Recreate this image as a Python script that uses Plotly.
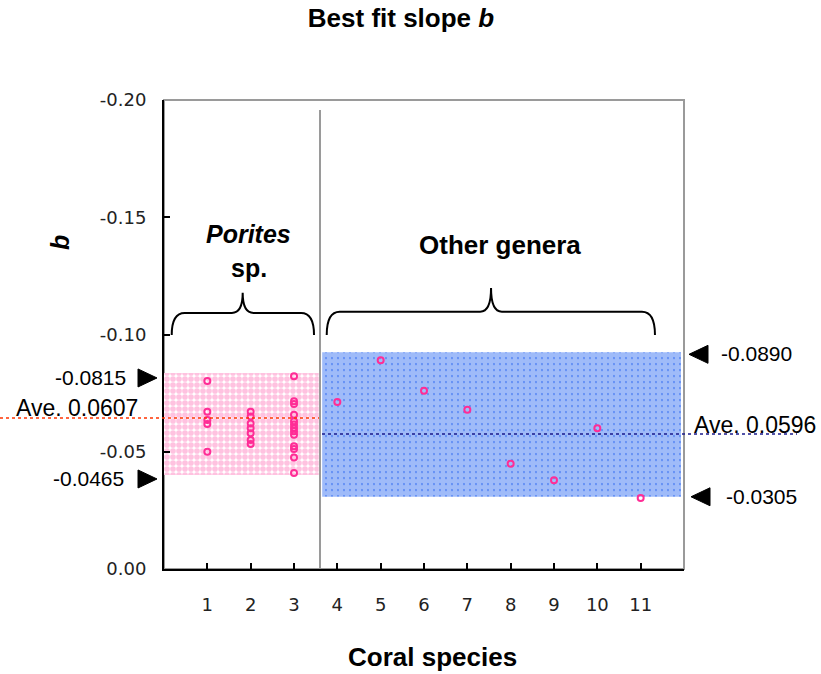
import plotly.graph_objects as go

# ---------------- data ----------------
categories = list(range(1, 12))
porites_x = [1] * 5 + [2] * 7 + [3] * 13
porites_b = [-0.0802, -0.0671, -0.0635, -0.0618, -0.0500,
             -0.0671, -0.0650, -0.0621, -0.0600, -0.0579, -0.0550, -0.0533,
             -0.0822, -0.0715, -0.0704, -0.0658, -0.0630, -0.0616, -0.0601,
             -0.0587, -0.0573, -0.0523, -0.0512, -0.0476, -0.0409]
other_x = [4, 5, 6, 7, 8, 9, 10, 11]
other_b = [-0.0712, -0.0890, -0.0760, -0.0679, -0.0449, -0.0378, -0.0600, -0.0303]

porites_band = [-0.0836, -0.0401]   # top, bottom
other_band = [-0.0924, -0.0308]
porites_avg = -0.0644
other_avg = -0.0576

porites_labels = ["-0.0815", "-0.0465"]
other_labels = ["-0.0890", "-0.0305"]
avg_labels = ["Ave. 0.0607", "Ave. 0.0596"]

y_ticks = [0.0, -0.05, -0.10, -0.15, -0.20]
y_ticktext = ["0.00", "-0.05", "-0.10", "-0.15", "-0.20"]

# ---------------- layout constants ----------------
W, H = 821, 674
ML, MR, MT, MB = 164, 137, 100, 105
PW = W - ML - MR
PH = H - MT - MB
XR = [0, 12]
YR = [0, -0.2]
DIV = 3.6
DPX = abs(YR[1] - YR[0]) / PH   # data units per pixel (y)

def px2paperx(px):
    return (px - ML) / PW

def px2papery(py):
    return (H - MB - py) / PH

fig = go.Figure()

# bands
fig.add_trace(go.Scatter(
    x=[0, 3.57, 3.57, 0, 0],
    y=[porites_band[0], porites_band[0], porites_band[1], porites_band[1], porites_band[0]],
    fill="toself", mode="lines", line=dict(width=0),
    fillcolor="white",
    fillpattern=dict(shape=".", fgcolor="#ff86c2", bgcolor="white", size=6, solidity=0.7),
    hoverinfo="skip", showlegend=False))
fig.add_trace(go.Scatter(
    x=[3.65, 11.93, 11.93, 3.65, 3.65],
    y=[other_band[0], other_band[0], other_band[1], other_band[1], other_band[0]],
    fill="toself", mode="lines", line=dict(width=0),
    fillcolor="#3f76f2",
    fillpattern=dict(shape=".", fgcolor="white", bgcolor="#3f76f2", size=6, solidity=0.85),
    hoverinfo="skip", showlegend=False))

# points
fig.add_trace(go.Scatter(
    x=porites_x, y=porites_b, mode="markers",
    marker=dict(symbol="circle-open", size=6, color="#ff2d96", line=dict(width=2)),
    showlegend=False))
fig.add_trace(go.Scatter(
    x=other_x, y=other_b, mode="markers",
    marker=dict(symbol="circle-open", size=6, color="#ff2d96", line=dict(width=2)),
    showlegend=False))

shapes = []
# frame (gray top/right)
shapes.append(dict(type="rect", xref="paper", yref="paper", x0=0, x1=1, y0=0, y1=1,
                   line=dict(color="#9a9a9a", width=2), layer="below"))
# divider
shapes.append(dict(type="line", xref="x", yref="y", x0=DIV, x1=DIV, y0=0, y1=-0.1957,
                   line=dict(color="#9a9a9a", width=2)))
# average lines
shapes.append(dict(type="line", xref="paper", yref="y",
                   x0=px2paperx(0), x1=px2paperx(319), y0=porites_avg, y1=porites_avg,
                   line=dict(color="#ff3300", width=1.5, dash="dot")))
shapes.append(dict(type="line", xref="paper", yref="y",
                   x0=px2paperx(322), x1=px2paperx(797), y0=other_avg, y1=other_avg,
                   line=dict(color="#1a1a8c", width=1.5, dash="dot")))

def brace(x0, x1, xt, ye, yf, yt, r=0.3, r2=0.25):
    return (f"M{x0},{ye} Q{x0},{yf} {x0 + r},{yf} L{xt - r2},{yf} "
            f"Q{xt},{yf} {xt},{yt} Q{xt},{yf} {xt + r2},{yf} "
            f"L{x1 - r},{yf} Q{x1},{yf} {x1},{ye}")

shapes.append(dict(type="path", xref="x", yref="y",
                   path=brace(0.178, 3.462, 1.816, -0.0998, -0.1092, -0.1178),
                   line=dict(color="black", width=2)))
shapes.append(dict(type="path", xref="x", yref="y",
                   path=brace(3.755, 11.33, 7.547, -0.0998, -0.1097, -0.1198),
                   line=dict(color="black", width=2)))

# arrow triangles (paper x, data y)
def tri(xc_px, yval, dy_px, pointing_right):
    y = yval + dy_px * DPX
    h = 9 * DPX
    if pointing_right:
        xb, xt = px2paperx(xc_px - 9), px2paperx(xc_px + 10)
    else:
        xb, xt = px2paperx(xc_px + 10), px2paperx(xc_px - 9)
    return dict(type="path", xref="paper", yref="y",
                path=f"M{xb},{y - h} L{xt},{y} L{xb},{y + h} Z",
                fillcolor="black", line=dict(color="black", width=1))

shapes.append(tri(147, porites_band[0], 5, True))
shapes.append(tri(147, porites_band[1], 4, True))
shapes.append(tri(698, other_band[0], 2, False))
shapes.append(tri(700, other_band[1], 0, False))

ann = []
TF = "Liberation Sans, Arial, sans-serif"
# group labels
ann.append(dict(xref="x", yref="paper", x=1.96, y=px2papery(234), yanchor="middle",
                text="<b><i>Porites</i></b>", showarrow=False,
                font=dict(family=TF, size=25, color="black")))
ann.append(dict(xref="x", yref="paper", x=1.96, y=px2papery(268), yanchor="middle",
                text="<b>sp.</b>", showarrow=False,
                font=dict(family=TF, size=25, color="black")))
ann.append(dict(xref="x", yref="paper", x=7.76, y=px2papery(245), yanchor="middle",
                text="<b>Other genera</b>", showarrow=False,
                font=dict(family=TF, size=26, color="black")))
# side labels
ann.append(dict(xref="paper", yref="y", x=px2paperx(128), y=porites_band[0], yshift=-5,
                xanchor="right", yanchor="middle", text=porites_labels[0], showarrow=False,
                font=dict(family=TF, size=21, color="black")))
ann.append(dict(xref="paper", yref="y", x=px2paperx(126), y=porites_band[1], yshift=-4,
                xanchor="right", yanchor="middle", text=porites_labels[1], showarrow=False,
                font=dict(family=TF, size=21, color="black")))
ann.append(dict(xref="paper", yref="y", x=px2paperx(140), y=porites_avg, yshift=10,
                xanchor="right", yanchor="middle", text=avg_labels[0], showarrow=False,
                font=dict(family=TF, size=23, color="black")))
ann.append(dict(xref="paper", yref="y", x=px2paperx(719), y=other_band[0], yshift=-1,
                xanchor="left", yanchor="middle", text=other_labels[0], showarrow=False,
                font=dict(family=TF, size=21, color="black")))
ann.append(dict(xref="paper", yref="y", x=px2paperx(724), y=other_band[1], yshift=0,
                xanchor="left", yanchor="middle", text=other_labels[1], showarrow=False,
                font=dict(family=TF, size=21, color="black")))
ann.append(dict(xref="paper", yref="y", x=px2paperx(692), y=other_avg, yshift=9,
                xanchor="left", yanchor="middle", text=avg_labels[1], showarrow=False,
                font=dict(family=TF, size=23, color="black")))
# axis titles
ann.append(dict(xref="paper", yref="paper", x=px2paperx(60), y=px2papery(243),
                xanchor="center", yanchor="middle",
                text="<b><i>b</i></b>", textangle=-90, showarrow=False,
                font=dict(family=TF, size=25, color="black")))
ann.append(dict(xref="paper", yref="paper", x=px2paperx(432), y=px2papery(657),
                xanchor="center", yanchor="middle",
                text="<b>Coral species</b>", showarrow=False,
                font=dict(family=TF, size=26, color="black")))

fig.update_layout(
    width=W, height=H,
    margin=dict(l=ML, r=MR, t=MT, b=MB, pad=0),
    paper_bgcolor="white", plot_bgcolor="white",
    showlegend=False,
    title=dict(text="<b>Best fit slope <i>b</i></b>", x=401 / W, xanchor="center",
               y=1 - 18 / H, yanchor="middle",
               font=dict(family=TF, size=26, color="black")),
    shapes=shapes, annotations=ann,
    xaxis=dict(range=XR, tickvals=categories, ticktext=[str(c) for c in categories],
               ticks="inside", ticklen=6, tickwidth=1.5, tickcolor="black",
               showline=True, linecolor="black", linewidth=2,
               showgrid=False, zeroline=False, ticklabelstandoff=18,
               tickfont=dict(family="DejaVu Sans", size=18, color="#222")),
    yaxis=dict(range=YR, tickvals=y_ticks, ticktext=y_ticktext,
               ticks="inside", ticklen=6, tickwidth=1.5, tickcolor="black",
               showline=True, linecolor="black", linewidth=2,
               showgrid=False, zeroline=False, ticklabelstandoff=12,
               tickfont=dict(family="DejaVu Sans", size=18, color="#222")),
)

fig.write_html("out.html")
